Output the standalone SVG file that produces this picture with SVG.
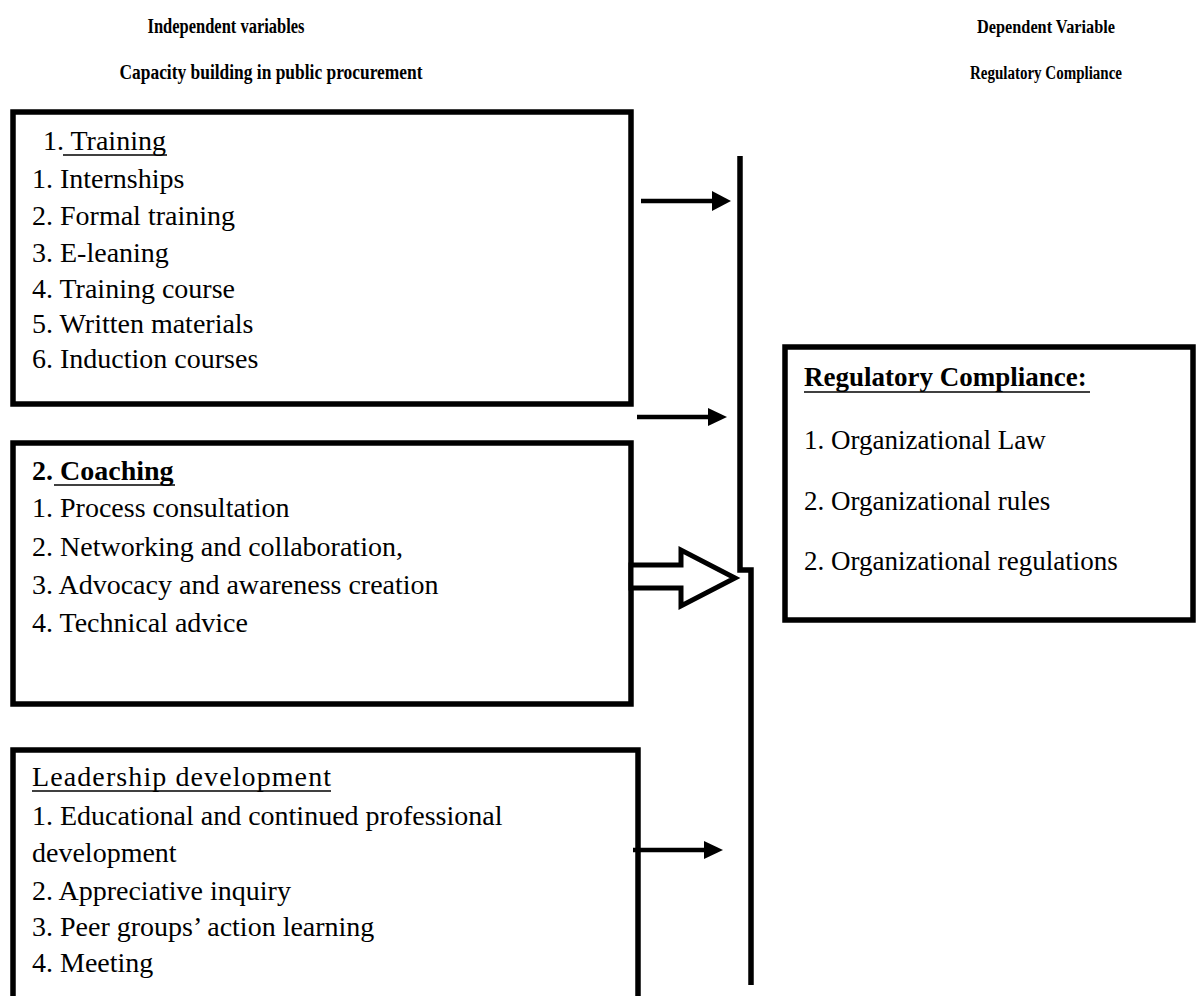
<svg xmlns="http://www.w3.org/2000/svg" width="1197" height="996" viewBox="0 0 1197 996">
<style>
  .hdr { font-family: "Liberation Serif", "Times New Roman", serif; font-weight: bold; font-size: 20px; fill: #000; text-anchor: middle; }
  .hdr2 { font-size: 18px; }
  .t { font-family: "Liberation Serif", "Times New Roman", serif; font-size: 28px; fill: #000; }
  .tr { font-family: "Liberation Serif", "Times New Roman", serif; font-size: 27px; fill: #000; }
  .b { font-weight: bold; }
  .box { fill: #fff; stroke: #000; stroke-width: 5.5; }
  .ul { stroke: #000; stroke-width: 1.6; }
  .conn { fill: none; stroke: #000; stroke-width: 5.5; }
  .shaft { stroke: #000; stroke-width: 4.5; }
  .head { fill: #000; }
  .hollow { fill: #fff; stroke: #000; stroke-width: 5; stroke-linejoin: miter; }
</style>
<rect width="1197" height="996" fill="#fff"/>

<g id="headers">
  <text class="hdr" x="226" y="33" textLength="157" lengthAdjust="spacingAndGlyphs">Independent variables</text>
  <text class="hdr" x="271" y="79" textLength="303" lengthAdjust="spacingAndGlyphs">Capacity building in public procurement</text>
  <text class="hdr hdr2" x="1046" y="33" textLength="138" lengthAdjust="spacingAndGlyphs">Dependent Variable</text>
  <text class="hdr hdr2" x="1046" y="79" textLength="152" lengthAdjust="spacingAndGlyphs">Regulatory Compliance</text>
</g>

<g id="training">
  <rect class="box" x="13" y="112" width="618" height="292"/>
  <text class="t" x="43" y="150">1. Training</text>
  <line class="ul" x1="63" y1="155" x2="167" y2="155"/>
  <text class="t" x="32" y="188">1. Internships</text>
  <text class="t" x="32" y="225">2. Formal training</text>
  <text class="t" x="32" y="262">3. E-leaning</text>
  <text class="t" x="32" y="298">4. Training course</text>
  <text class="t" x="32" y="333">5. Written materials</text>
  <text class="t" x="32" y="368">6. Induction courses</text>
</g>

<g id="coaching">
  <rect class="box" x="13" y="443" width="618" height="261"/>
  <text class="t b" x="32" y="480">2. Coaching</text>
  <line class="ul" x1="54" y1="485" x2="175" y2="485"/>
  <text class="t" x="32" y="517">1. Process consultation</text>
  <text class="t" x="32" y="556">2. Networking and collaboration,</text>
  <text class="t" x="32" y="594">3. Advocacy and awareness creation</text>
  <text class="t" x="32" y="632">4. Technical advice</text>
</g>

<g id="leadership">
  <rect class="box" x="13" y="750" width="625" height="270"/>
  <text class="t" x="32" y="786" textLength="299" lengthAdjust="spacing">Leadership development</text>
  <line class="ul" x1="32" y1="791" x2="331" y2="791"/>
  <text class="t" x="32" y="825">1. Educational and continued professional</text>
  <text class="t" x="32" y="862">development</text>
  <text class="t" x="32" y="900">2. Appreciative inquiry</text>
  <text class="t" x="32" y="936">3. Peer groups’ action learning</text>
  <text class="t" x="32" y="972">4. Meeting</text>
</g>

<g id="regulatory">
  <rect class="box" x="785" y="347" width="408" height="273"/>
  <text class="tr b" x="804" y="386">Regulatory Compliance:</text>
  <line class="ul" x1="804" y1="392" x2="1090" y2="392"/>
  <text class="tr" x="804" y="449">1. Organizational Law</text>
  <text class="tr" x="804" y="510">2. Organizational rules</text>
  <text class="tr" x="804" y="570">2. Organizational regulations</text>
</g>

<g id="connectors">
  <path class="conn" d="M740 156 V570 H751 V985"/>
  <line class="shaft" x1="641" y1="201" x2="714" y2="201"/>
  <polygon class="head" points="712,191 731,201 712,211"/>
  <line class="shaft" x1="637" y1="417" x2="710" y2="417"/>
  <polygon class="head" points="708,408 727,417 708,426"/>
  <polygon class="hollow" points="631,565 681,565 681,550 735,578 681,606 681,588 631,588"/>
  <line class="shaft" x1="633" y1="850" x2="706" y2="850"/>
  <polygon class="head" points="704,841 723,850 704,859"/>
</g>
</svg>
